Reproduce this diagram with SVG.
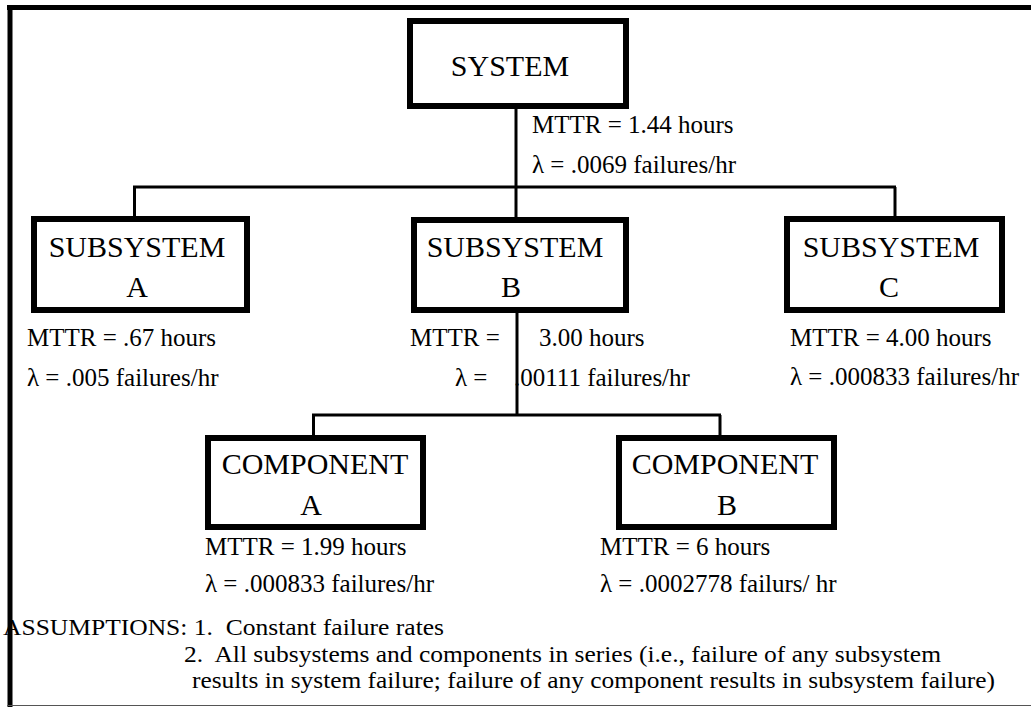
<svg xmlns="http://www.w3.org/2000/svg" width="1031" height="707" viewBox="0 0 1031 707">
<style>
.box{fill:#fff;stroke:#000;stroke-width:6}
.t{font-family:"Liberation Serif","Times New Roman",serif;fill:#000}
.nm{font-size:30px;text-anchor:middle}
.lb{font-size:25px}
.as{font-size:24px}
.c{stroke:#000;stroke-width:3;fill:none}
</style>
<rect width="1031" height="707" fill="#fff"/>
<g id="system">
<rect class="box" x="410" y="21" width="216" height="85"/>
<text class="t nm" x="510" y="76">SYSTEM</text>
<text class="t lb" x="532" y="133">MTTR = 1.44 hours</text>
<text class="t lb" x="532" y="173">λ = .0069 failures/hr</text>
</g>
<g id="subsystem-a">
<rect class="box" x="34" y="219" width="213" height="91"/>
<text class="t nm" x="137" y="257">SUBSYSTEM</text>
<text class="t nm" x="137" y="297">A</text>
<text class="t lb" x="27" y="346">MTTR = .67 hours</text>
<text class="t lb" x="27" y="386">λ = .005 failures/hr</text>
</g>
<g id="subsystem-b">
<rect class="box" x="414" y="220" width="212" height="90"/>
<text class="t nm" x="515" y="257">SUBSYSTEM</text>
<text class="t nm" x="511" y="297">B</text>
<text class="t lb" x="410" y="346">MTTR =</text>
<text class="t lb" x="539" y="346">3.00 hours</text>
<text class="t lb" x="455" y="386">λ =</text>
<text class="t lb" x="514" y="386">.00111 failures/hr</text>
</g>
<g id="subsystem-c">
<rect class="box" x="787" y="219" width="215" height="91"/>
<text class="t nm" x="891" y="257">SUBSYSTEM</text>
<text class="t nm" x="889" y="297">C</text>
<text class="t lb" x="790" y="346">MTTR = 4.00 hours</text>
<text class="t lb" x="790" y="385">λ = .000833 failures/hr</text>
</g>
<g id="component-a">
<rect class="box" x="208" y="438" width="215" height="89"/>
<text class="t nm" x="315" y="474">COMPONENT</text>
<text class="t nm" x="311" y="515">A</text>
<text class="t lb" x="205" y="555">MTTR = 1.99 hours</text>
<text class="t lb" x="205" y="592">λ = .000833 failures/hr</text>
</g>
<g id="component-b">
<rect class="box" x="619" y="438" width="215" height="89"/>
<text class="t nm" x="725" y="474">COMPONENT</text>
<text class="t nm" x="727" y="515">B</text>
<text class="t lb" x="600" y="555">MTTR = 6 hours</text>
<text class="t lb" x="600" y="592">λ = .0002778 failurs/ hr</text>
</g>
<g id="connectors">
<line class="c" x1="516" y1="109" x2="516" y2="218"/>
<line class="c" x1="133" y1="187" x2="896" y2="187"/>
<line class="c" x1="134.5" y1="187" x2="134.5" y2="216"/>
<line class="c" x1="895" y1="187" x2="895" y2="216"/>
<line class="c" x1="517" y1="313" x2="517" y2="416"/>
<line class="c" x1="312" y1="415" x2="721" y2="415"/>
<line class="c" x1="313.5" y1="415" x2="313.5" y2="435"/>
<line class="c" x1="720" y1="415" x2="720" y2="435"/>
</g>
<g id="assumptions">
<text class="t as" x="3" y="635" xml:space="preserve" textLength="441" lengthAdjust="spacingAndGlyphs">ASSUMPTIONS: 1.  Constant failure rates</text>
<text class="t as" x="184" y="662" xml:space="preserve" textLength="757" lengthAdjust="spacingAndGlyphs">2.  All subsystems and components in series (i.e., failure of any subsystem</text>
<text class="t as" x="192" y="688" textLength="803" lengthAdjust="spacingAndGlyphs">results in system failure; failure of any component results in subsystem failure)</text>
</g>
<g id="frame">
<line x1="7" y1="7.5" x2="1031" y2="7.5" stroke="#000" stroke-width="5"/>
<line x1="10" y1="5" x2="10" y2="707" stroke="#000" stroke-width="5"/>
<line x1="7" y1="705.5" x2="1031" y2="705.5" stroke="#555" stroke-width="1"/>
</g>
</svg>
